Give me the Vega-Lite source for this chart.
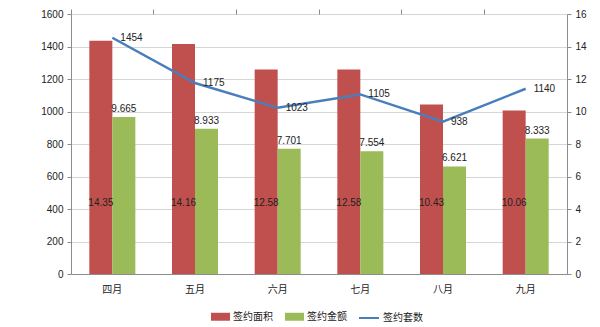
{
  "$schema": "https://vega.github.io/schema/vega-lite/v6.json",
  "width": 496,
  "height": 260,
  "autosize": "none",
  "padding": {"left": 71, "top": 14, "right": 33, "bottom": 53},
  "background": "#ffffff",
  "config": {
    "font": "Liberation Sans, Noto Sans CJK SC",
    "view": {"stroke": null},
    "axis": {
      "labelFont": "Liberation Sans, Noto Sans CJK SC",
      "labelFontSize": 10,
      "labelColor": "#222222",
      "domainColor": "#8c8c8c",
      "tickColor": "#8c8c8c",
      "gridColor": "#d6d6d6",
      "title": null
    },
    "legend": {
      "labelFont": "Noto Sans CJK SC",
      "labelFontSize": 10,
      "labelColor": "#222222"
    }
  },
  "data": {
    "values": [
      {"month": "四月", "签约面积": 14.35, "签约金额": 9.665, "签约套数": 1454},
      {"month": "五月", "签约面积": 14.16, "签约金额": 8.933, "签约套数": 1175},
      {"month": "六月", "签约面积": 12.58, "签约金额": 7.701, "签约套数": 1023},
      {"month": "七月", "签约面积": 12.58, "签约金额": 7.554, "签约套数": 1105},
      {"month": "八月", "签约面积": 10.43, "签约金额": 6.621, "签约套数": 938},
      {"month": "九月", "签约面积": 10.06, "签约金额": 8.333, "签约套数": 1140}
    ]
  },
  "layer": [
    {
      "encoding": {
        "x": {
          "field": "month",
          "type": "nominal",
          "sort": ["四月", "五月", "六月", "七月", "八月", "九月"],
          "scale": {"paddingInner": 0, "paddingOuter": 0},
          "axis": {"labels": true, "ticks": false, "domain": true, "labelAngle": 0, "labelPadding": 10, "grid": false, "labelFont": "Noto Sans CJK SC"}
        }
      },
      "layer": [
        {
          "transform": [{"fold": ["签约面积", "签约金额"], "as": ["series", "value"]}],
          "mark": {"type": "bar"},
          "encoding": {
            "xOffset": {
              "field": "series",
              "type": "nominal",
              "sort": ["签约面积", "签约金额"],
              "scale": {"paddingInner": 0, "paddingOuter": 0.797}
            },
            "y": {
              "field": "value",
              "type": "quantitative",
              "scale": {"domain": [0, 16], "nice": false},
              "axis": {"orient": "right", "values": [0, 2, 4, 6, 8, 10, 12, 14, 16], "tickCount": 9, "labelOverlap": false, "format": "d", "grid": false, "tickSize": 4, "labelPadding": 4}
            },
            "color": {
              "field": "series",
              "type": "nominal",
              "scale": {"domain": ["签约面积", "签约金额"], "range": ["#c0504d", "#9bbb59"]},
              "legend": {
                "orient": "none",
                "legendX": 140,
                "legendY": 293,
                "direction": "horizontal",
                "title": null,
                "symbolType": "M-1,-0.42H1V0.42H-1Z",
                "symbolSize": 361,
                "symbolStrokeWidth": 0,
                "labelOffset": 3,
                "columnPadding": 12
              }
            }
          }
        },
        {
          "mark": {"type": "text", "fontSize": 10, "color": "#222222", "baseline": "middle", "font": "Liberation Sans"},
          "encoding": {
            "xOffset": {"datum": "签约面积"},
            "y": {"datum": 4.4, "type": "quantitative"},
            "text": {"field": "签约面积", "type": "quantitative", "format": ".2f"}
          }
        },
        {
          "mark": {"type": "text", "fontSize": 10, "color": "#222222", "baseline": "bottom", "dy": -3, "font": "Liberation Sans"},
          "encoding": {
            "xOffset": {"datum": "签约金额"},
            "y": {"field": "签约金额", "type": "quantitative"},
            "text": {"field": "签约金额", "type": "quantitative", "format": ".3f"}
          }
        }
      ]
    },
    {
      "encoding": {
        "x": {
          "field": "month",
          "type": "nominal",
          "sort": ["四月", "五月", "六月", "七月", "八月", "九月"],
          "axis": {"labels": false, "ticks": true, "domain": false, "bandPosition": 0, "tickSize": 5, "grid": false}
        }
      },
      "layer": [
        {
          "mark": {"type": "line", "color": "#4a7ebb", "strokeWidth": 2.5},
          "encoding": {
            "y": {
              "field": "签约套数",
              "type": "quantitative",
              "scale": {"domain": [0, 1600], "nice": false},
              "axis": {"orient": "left", "values": [0, 200, 400, 600, 800, 1000, 1200, 1400, 1600], "tickCount": 9, "labelOverlap": false, "format": "d", "grid": true, "tickSize": 4, "labelPadding": 4}
            },
            "stroke": {
              "datum": "签约套数",
              "scale": {"range": ["#4a7ebb"]},
              "legend": {
                "orient": "none",
                "legendX": 287,
                "legendY": 293,
                "title": null,
                "symbolType": "stroke",
                "symbolSize": 400,
                "symbolStrokeWidth": 2,
                "labelOffset": 3
              }
            }
          }
        },
        {
          "mark": {"type": "text", "fontSize": 10, "color": "#222222", "align": "left", "baseline": "middle", "dx": 8, "font": "Liberation Sans"},
          "encoding": {
            "y": {"field": "签约套数", "type": "quantitative"},
            "text": {"field": "签约套数", "type": "quantitative", "format": "d"}
          }
        }
      ]
    }
  ],
  "resolve": {"scale": {"y": "independent"}, "axis": {"x": "independent"}}
}
